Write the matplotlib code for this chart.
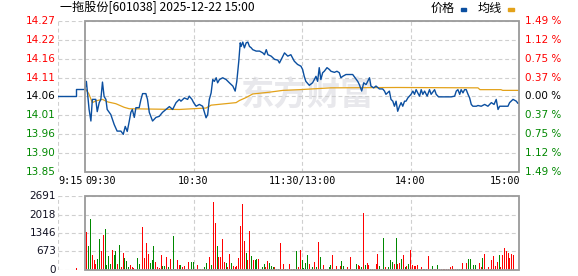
import matplotlib.pyplot as plt
from matplotlib.patches import Rectangle

plt.rcParams['font.family'] = ['DejaVu Sans', 'Noto Sans CJK SC']

title = "一拖股份[601038] 2025-12-22 15:00"
prev_close = 14.06

# left / right axis labels (top to bottom = high to low)
price_labels = ["14.27", "14.22", "14.16", "14.11", "14.06", "14.01", "13.96", "13.90", "13.85"]
pct_labels = ["1.49 %", "1.12 %", "0.75 %", "0.37 %", "0.00 %", "0.37 %", "0.75 %", "1.12 %", "1.49 %"]
pct_steps = [4, 3, 2, 1, 0, -1, -2, -3, -4]
max_pct = 1.49

time_pos = [-15, 0, 60, 120, 180, 240]
time_labels = ["9:15", "09:30", "10:30", "11:30/13:00", "14:00", "15:00"]

vol_ticks = [0, 673, 1346, 2018, 2691]

# call auction 9:15-9:30 (minutes relative to 9:30)
pre_min = [-15, -5, -5, 0]
pre_price = [14.06, 14.06, 14.08, 14.08]

# minute price line
price_min = [0, 0.7, 2.2, 3.2, 4.0, 5.9, 6.7, 7.8, 8.7, 9.6, 10.5, 11.5, 12.2, 14.2, 16.1,
             17.7, 19.8, 21.1, 22.2, 23.3, 24.4, 25.3, 26.1, 27.2, 28.1, 29.9, 30.9, 31.8,
             33.6, 34.5, 35.5, 37.3, 39.2, 41.0, 42.8, 44.7, 46.6, 48.4, 50.3, 52.1, 53.0,
             54.9, 56.7, 57.6, 59.1, 60.0, 61.4, 63.2, 65.0, 66.9, 67.8, 68.7, 69.7, 70.6,
             71.5, 72.5, 73.3, 74.3, 76.1, 78.0, 79.8, 81.7, 83.0, 83.9, 85.0, 85.8, 86.3,
             87.2, 88.1, 89.1, 90.0, 90.9, 91.9, 92.7, 94.6, 96.5, 98.3, 99.2, 100.2, 101.1,
             102.9, 104.8, 106.6, 107.5, 109.4, 110.3, 112.1, 113.8, 115.7, 117.5, 119.4,
             120.3, 121.2, 122.1, 124.0, 125.8, 126.8, 127.7, 128.6, 129.5, 130.4, 131.4,
             132.3, 133.8, 135.1, 136.0, 137.9, 139.3, 140.6, 141.5, 142.5, 144.3, 146.2,
             148.0, 148.9, 150.8, 151.7, 153.0, 154.1, 155.4, 156.3, 157.3, 158.1, 159.6,
             160.9, 162.8, 164.6, 165.6, 166.4, 168.3, 169.2, 170.2, 171.1, 172.0, 172.9,
             173.9, 174.8, 175.7, 176.7, 177.5, 178.5, 180.3, 181.3, 182.2, 183.1, 184.0,
             185.0, 185.9, 186.8, 187.8, 189.2, 190.5, 191.4, 193.3, 194.2, 195.5, 197.0,
             199.7, 202.5, 204.4, 205.3, 206.2, 207.2, 208.0, 209.0, 209.9, 210.8, 211.8,
             212.7, 213.6, 214.5, 216.4, 217.3, 219.1, 221.0, 222.8, 224.7, 226.2, 227.4,
             228.4, 229.3, 232.1, 233.9, 234.8, 236.7, 238.5, 239.4, 240]
price = [14.082, 14.102, 14.024, 13.992, 14.052, 14.052, 14.018, 14.043, 14.052, 14.100,
         14.060, 14.052, 14.024, 14.010, 13.982, 13.964, 13.964, 13.955, 13.977, 13.963,
         13.991, 14.016, 14.024, 14.002, 14.029, 14.029, 14.052, 14.068, 14.068, 14.052,
         14.016, 13.992, 14.002, 14.005, 14.016, 14.024, 14.032, 14.024, 14.043, 14.052,
         14.047, 14.056, 14.052, 14.061, 14.052, 14.043, 14.033, 14.038, 14.033, 14.001,
         14.010, 14.052, 14.070, 14.107, 14.102, 14.112, 14.098, 14.107, 14.112, 14.107,
         14.098, 14.089, 14.075, 14.102, 14.158, 14.209, 14.199, 14.211, 14.195, 14.209,
         14.211, 14.199, 14.195, 14.190, 14.186, 14.186, 14.181, 14.176, 14.190, 14.176,
         14.172, 14.163, 14.161, 14.153, 14.172, 14.181, 14.172, 14.176, 14.158, 14.149,
         14.144, 14.135, 14.116, 14.102, 14.091, 14.098, 14.107, 14.116, 14.102, 14.140,
         14.107, 14.126, 14.130, 14.140, 14.135, 14.130, 14.127, 14.130, 14.126, 14.112,
         14.116, 14.121, 14.121, 14.121, 14.115, 14.102, 14.093, 14.075, 14.098, 14.093,
         14.102, 14.112, 14.089, 14.084, 14.089, 14.081, 14.081, 14.075, 14.066, 14.075,
         14.052, 14.047, 14.033, 14.047, 14.019, 14.033, 14.043, 14.033, 14.047, 14.047,
         14.056, 14.066, 14.075, 14.066, 14.079, 14.070, 14.061, 14.079, 14.066, 14.075,
         14.061, 14.079, 14.066, 14.079, 14.066, 14.059, 14.059, 14.059, 14.059, 14.061,
         14.075, 14.079, 14.066, 14.079, 14.070, 14.079, 14.079, 14.066, 14.056, 14.038,
         14.033, 14.033, 14.035, 14.033, 14.038, 14.033, 14.043, 14.038, 14.052, 14.024,
         14.033, 14.033, 14.033, 14.043, 14.052, 14.047, 14.041, 14.041]

# average price line
avg_min = [0, 2.0, 4.0, 6.0, 9.6, 12.5, 17.0, 21.6, 24.4, 52.1, 66.9, 69.7, 83.5, 85.4,
           89.0, 92.7, 102.0, 109.4, 118.6, 135.8, 172.9, 217.3, 218.4, 230.0, 231.0, 240]
avg_price = [14.082, 14.068, 14.043, 14.048, 14.052, 14.045, 14.040, 14.030, 14.026, 14.024,
             14.028, 14.036, 14.043, 14.049, 14.057, 14.067, 14.072, 14.077, 14.079, 14.084,
             14.085, 14.084, 14.079, 14.079, 14.077, 14.077]

# volume per minute; 'r' = up bar (red), 'g' = down bar (green)
vol_min = [-5, 1, 2, 3, 4, 5, 6, 7, 8, 9,
           10, 11, 12, 13, 14, 15, 16, 17, 18, 19,
           20, 21, 22, 23, 24, 25, 26, 27, 29, 30,
           32, 33, 34, 35, 36, 37, 38, 39, 40, 41,
           42, 43, 44, 45, 46, 47, 48, 49, 50, 51,
           52, 53, 54, 55, 56, 57, 58, 59, 60, 61,
           62, 63, 64, 65, 66, 67, 68, 69, 70, 71,
           72, 73, 74, 75, 76, 77, 78, 79, 80, 81,
           82, 83, 84, 85, 86, 87, 88, 89, 90, 91,
           92, 93, 94, 95, 96, 97, 98, 99, 100, 101,
           102, 103, 104, 105, 106, 107, 108, 109, 110, 111,
           112, 113, 114, 115, 116, 117, 118, 119, 120, 121,
           122, 123, 124, 125, 126, 127, 128, 129, 130, 131,
           132, 133, 134, 135, 136, 137, 138, 139, 140, 141,
           142, 143, 145, 146, 147, 148, 149, 150, 151, 152,
           153, 154, 155, 156, 157, 158, 159, 160, 161, 162,
           163, 164, 165, 166, 167, 168, 169, 170, 171, 172,
           173, 174, 175, 176, 177, 178, 179, 180, 181, 182,
           183, 184, 185, 186, 187, 188, 189, 190, 191, 192,
           193, 194, 195, 196, 197, 198, 199, 200, 201, 202,
           203, 204, 205, 206, 207, 208, 209, 211, 212, 213,
           214, 215, 216, 217, 218, 219, 220, 221, 222, 223,
           224, 225, 226, 227, 228, 229, 230, 231, 232, 233,
           234, 235, 236, 237, 240]
vol_val = [80, 1370, 873, 1856, 546, 364, 218, 400, 1128, 703,
           1274, 1492, 180, 510, 218, 728, 546, 703, 218, 910,
           100, 619, 437, 340, 100, 180, 100, 60, 437, 218,
           1576, 450, 995, 582, 265, 364, 873, 300, 100, 60,
           546, 130, 130, 485, 100, 400, 50, 1237, 50, 364,
           180, 180, 100, 150, 50, 290, 50, 290, 290, 50,
           180, 50, 50, 50, 100, 255, 50, 460, 180, 2475,
           1722, 873, 460, 460, 1117, 300, 265, 100, 582, 265,
           150, 100, 150, 425, 1601, 2400, 1055, 630, 364, 1420,
           510, 364, 364, 400, 400, 50, 100, 218, 100, 320,
           265, 150, 100, 100, 50, 30, 995, 50, 218, 50,
           30, 218, 50, 30, 50, 703, 100, 728, 364, 80,
           265, 546, 218, 50, 100, 300, 100, 1030, 460, 50,
           180, 50, 50, 100, 180, 546, 50, 150, 50, 150,
           328, 150, 100, 50, 460, 50, 50, 218, 180, 150,
           100, 2086, 180, 265, 180, 50, 50, 50, 230, 582,
           150, 50, 1153, 100, 50, 100, 364, 300, 218, 1153,
           218, 265, 400, 546, 100, 150, 218, 728, 180, 150,
           150, 180, 50, 100, 50, 30, 30, 510, 50, 150,
           30, 30, 180, 30, 30, 50, 50, 30, 50, 100,
           130, 30, 30, 30, 30, 30, 265, 265, 400, 400,
           30, 180, 180, 30, 265, 100, 450, 582, 50, 100,
           50, 364, 520, 150, 300, 546, 100, 546, 790, 703,
           630, 425, 582, 546, 1395]
vol_dir = ("rrggrrrggr" "rggggrggrg" "rrgggrrrgg" "rrrrgggrrr" "rggrgrrgrr"
           "rgrrrrrggr" "rrgrggrrgr" "rgrrrrgrrg" "rrrrrrrgrr" "grggrrggrr"
           "gggrggrrrg" "rrrgrgrrgg" "ggrrgrgrgr" "rrrggrrrgr" "ggrrrrrgrr"
           "grgrrggrrr" "grgrrgggrg" "rrgrgrgrrr" "rrgrgggrrg" "rrgrrrrrrr"
           "rrrgggrrgg" "rggrrrgrrr" "rrrrrgrrrr" "rrrrg")

RED = '#ff0000'
GREEN = '#008800'
GRID = '#cfcfcf'
BORDER = '#9a9a9a'
BLUE = '#0b4fa0'
GOLD = '#e3a21a'
DASH = (0, (3.5, 2.5))
CJK = ['Noto Sans CJK SC', 'DejaVu Sans']

fig = plt.figure(figsize=(5.78, 2.76), dpi=100)
ax = fig.add_axes([58 / 578, 104 / 276, 461 / 578, 151 / 276])
axv = fig.add_axes([58 / 578, 6 / 276, 461 / 578, 74 / 276])

lo = prev_close * (1 - max_pct / 100)
hi = prev_close * (1 + max_pct / 100)
tick_pos = [prev_close * (1 + s * max_pct / 4 / 100) for s in pct_steps]

for a in (ax, axv):
    a.set_xlim(-15, 240)
    for s in a.spines.values():
        s.set_visible(False)
    a.set_xticks([])
    a.set_yticks([])
    for x in (-15, 60, 120, 180):
        a.axvline(x, color=GRID, lw=0.8, ls=DASH, zorder=1)

ax.set_ylim(lo, hi)
axv.set_ylim(0, vol_ticks[-1])

for y in tick_pos:
    ax.axhline(y, color=GRID, lw=0.8, ls=DASH, zorder=1)
for y in vol_ticks:
    axv.axhline(y, color=GRID, lw=0.8, ls=DASH, zorder=1)

ax.add_patch(Rectangle((0, lo), 240, hi - lo, fill=False, edgecolor=BORDER, lw=1.3,
                       zorder=5, clip_on=False))
axv.add_patch(Rectangle((0, 0), 240, vol_ticks[-1], fill=False, edgecolor=BORDER, lw=1.3,
                        zorder=5, clip_on=False))

# watermark
ax.text(0.54, 0.5, "东方财富", transform=ax.transAxes, ha='center', va='center',
        fontsize=24, fontweight='bold', color='#e8e8ec', family='Noto Sans CJK SC', zorder=0)

ax.plot(avg_min, avg_price, color=GOLD, lw=0.9, zorder=3)
ax.plot(pre_min, pre_price, color=BLUE, lw=1.0, zorder=4)
ax.plot(price_min, price, color=BLUE, lw=1.0, zorder=4)

ytr = ax.get_yaxis_transform()
for y, lab, pl, s in zip(tick_pos, price_labels, pct_labels, pct_steps):
    c = RED if s > 0 else (GREEN if s < 0 else 'black')
    ax.text(-2 / 461, y, lab, transform=ytr, ha='right', va='center', fontsize=7.5, color=c)
    ax.text(1 + 6 / 461, y, pl, transform=ytr, ha='left', va='center', fontsize=7.5, color=c)

xtr = ax.get_xaxis_transform()
for x, lab in zip(time_pos, time_labels):
    ha = 'left' if x <= 0 else ('right' if x >= 240 else 'center')
    ax.text(x if x < 240 else 241, -9 / 151, lab, transform=xtr, ha=ha, va='center',
            fontsize=7.3, family='DejaVu Sans Mono')

colors = [RED if d == 'r' else GREEN for d in vol_dir]
axv.bar(vol_min, vol_val, width=0.55, color=colors, linewidth=0, antialiased=False, zorder=3)

vtr = axv.get_yaxis_transform()
for v in vol_ticks:
    axv.text(-2 / 461, v, str(v), transform=vtr, ha='right', va='center', fontsize=7.5,
             color='#111122')

fig.text(60 / 578, 1 - 8 / 276, title, ha='left', va='center', fontsize=8.7, family=CJK)
fig.text(431 / 578, 1 - 8 / 276, "价格", ha='left', va='center', fontsize=8.7, family=CJK)
fig.text(478 / 578, 1 - 8 / 276, "均线", ha='left', va='center', fontsize=8.7, family=CJK)
fig.patches.append(Rectangle((461 / 578, 1 - 11 / 276), 5 / 578, 3 / 276,
                             transform=fig.transFigure, color=BLUE))
fig.patches.append(Rectangle((508 / 578, 1 - 11 / 276), 6 / 578, 3 / 276,
                             transform=fig.transFigure, color=GOLD))

fig.savefig("out.png", dpi=100)
